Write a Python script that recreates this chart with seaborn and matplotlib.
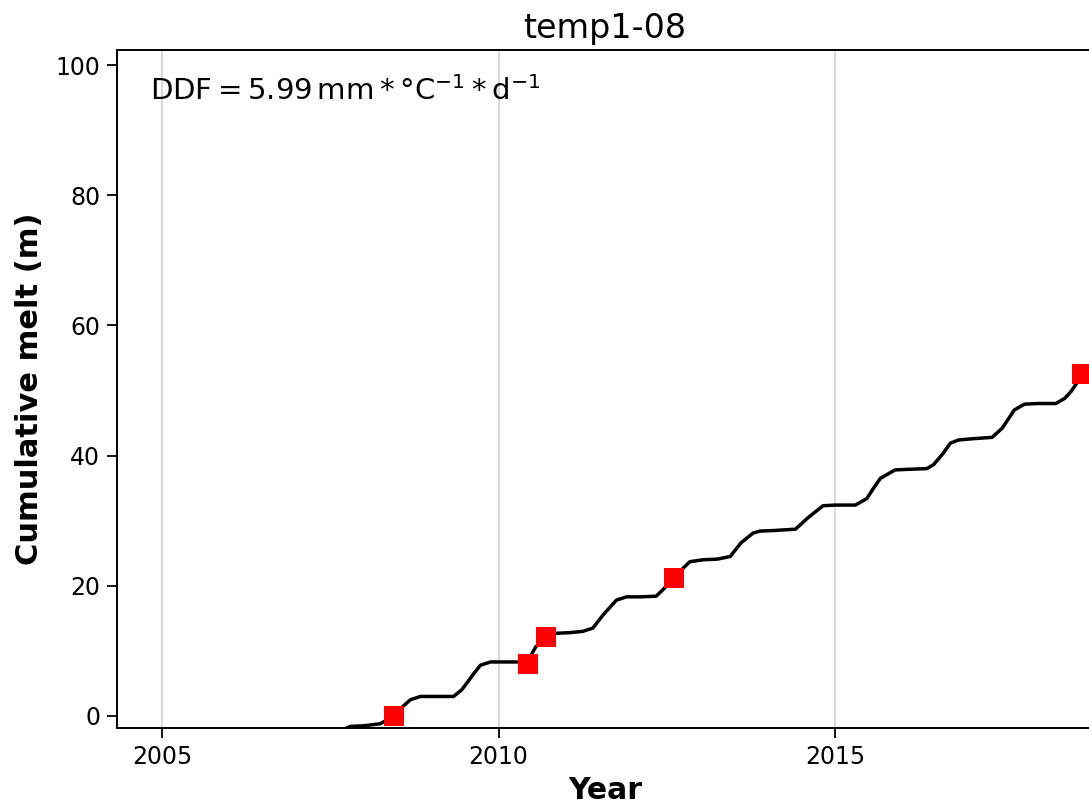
import numpy as np
import pandas as pd
import matplotlib
matplotlib.use("Agg")
import matplotlib.pyplot as plt
import seaborn as sns

# Modelled cumulative melt (decimal year, metres)
melt_years = [2007.70, 2007.73, 2007.80, 2008.00, 2008.24, 2008.44, 2008.55, 2008.69, 2008.84,
              2009.10, 2009.33, 2009.45, 2009.53, 2009.63, 2009.73, 2009.88, 2010.10, 2010.41,
              2010.48, 2010.55, 2010.70, 2010.85, 2011.05, 2011.25, 2011.40, 2011.55, 2011.75,
              2011.90, 2012.10, 2012.34, 2012.44, 2012.61, 2012.75, 2012.84, 2013.04, 2013.25,
              2013.44, 2013.60, 2013.78, 2013.88, 2014.10, 2014.41, 2014.60, 2014.82, 2015.00,
              2015.30, 2015.47, 2015.57, 2015.67, 2015.77, 2015.89, 2016.10, 2016.36, 2016.46,
              2016.60, 2016.71, 2016.83, 2017.05, 2017.33, 2017.48, 2017.66, 2017.81, 2018.00,
              2018.28, 2018.41, 2018.50, 2018.60, 2018.67]
melt_values = [-2.3, -1.9, -1.6, -1.5, -1.2, 0.0, 1.2, 2.5, 3.0,
               3.0, 3.0, 4.0, 5.1, 6.5, 7.8, 8.3, 8.3, 8.3,
               9.3, 10.6, 12.1, 12.7, 12.8, 13.0, 13.5, 15.5, 17.8,
               18.3, 18.3, 18.4, 19.4, 21.2, 22.8, 23.7, 24.0, 24.1,
               24.5, 26.6, 28.1, 28.4, 28.5, 28.7, 30.5, 32.3, 32.4,
               32.4, 33.4, 35.0, 36.5, 37.1, 37.8, 37.9, 38.0, 38.6,
               40.3, 41.9, 42.4, 42.6, 42.8, 44.2, 47.0, 47.9, 48.0,
               48.0, 48.8, 49.8, 51.3, 52.5]

# Surveyed melt observations
obs_years = [2008.44, 2010.43, 2010.70, 2012.61, 2018.67]
obs_values = [0.0, 8.0, 12.1, 21.2, 52.5]

x_ticks = [2005, 2010, 2015]
y_ticks = [0, 20, 40, 60, 80, 100]

melt = pd.DataFrame({"year": melt_years, "melt": melt_values})
obs = pd.DataFrame({"year": obs_years, "melt": obs_values})

sns.set_style("white")
plt.rcParams["font.family"] = ["DejaVu Sans"]
plt.rcParams["text.color"] = "black"
plt.rcParams["axes.labelcolor"] = "black"
plt.rcParams["xtick.color"] = "black"
plt.rcParams["ytick.color"] = "black"

fig = plt.figure(figsize=(10.89, 8.09), dpi=100)
ax = fig.add_axes([0.1074, 0.1001, 0.8963, 0.838])

for xt in x_ticks:
    ax.axvline(xt, color="#d9d9d9", lw=1.5, zorder=0)

sns.lineplot(data=melt, x="year", y="melt", ax=ax, color="black", lw=2.5,
             estimator=None, sort=False, zorder=2)
sns.scatterplot(data=obs, x="year", y="melt", ax=ax, color="red", marker="s",
                s=210, edgecolor="none", linewidth=0, zorder=3)

ax.set_xlim(2004.33, 2018.83)
ax.set_ylim(-1.85, 102.3)
ax.set_xticks(x_ticks)
ax.set_yticks(y_ticks)
ax.tick_params(axis="both", which="major", labelsize=17, length=7, width=1.3,
               direction="out", bottom=True, left=True, colors="black", pad=5)
for sp in ax.spines.values():
    sp.set_color("black")
    sp.set_linewidth(1.4)

ax.set_xlabel("Year", fontsize=21.5, fontweight="bold", labelpad=5)
ax.set_ylabel("Cumulative melt (m)", fontsize=22, fontweight="bold", labelpad=8)
ax.set_title("temp1-08", fontsize=24, pad=9)

ax.text(0.034, 0.962,
        r"$\mathrm{DDF} = 5.99\,\mathrm{mm} * \degree\mathrm{C}^{-1} * \mathrm{d}^{-1}$",
        transform=ax.transAxes, fontsize=21, va="top", ha="left")

fig.savefig("out.png", dpi=100)
